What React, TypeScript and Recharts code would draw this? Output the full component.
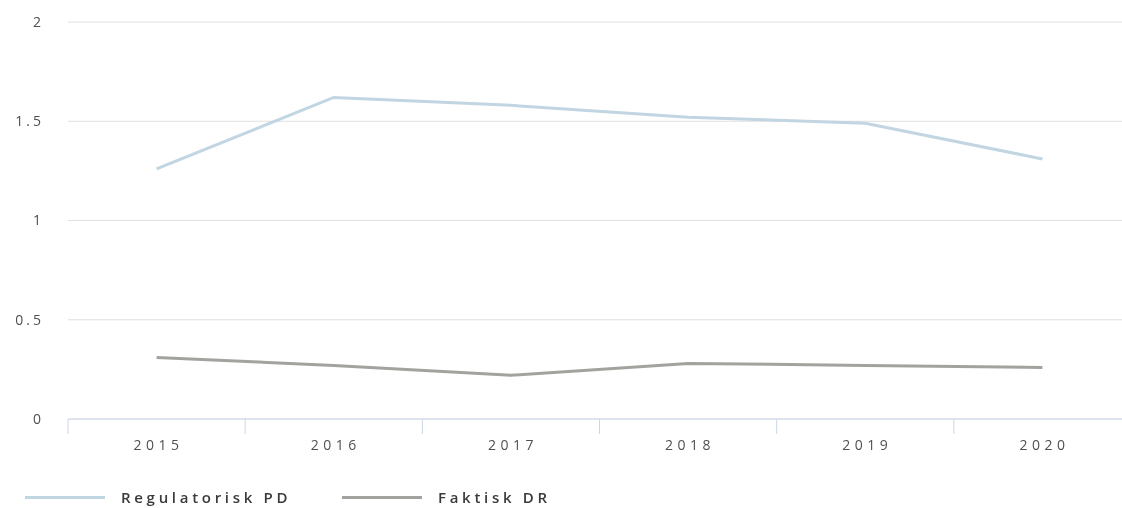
import React from "react";
import { LineChart, Line, XAxis, YAxis, CartesianGrid } from "recharts";

const years = [2015, 2016, 2017, 2018, 2019, 2020];
const regulatoriskPD = [1.26, 1.62, 1.58, 1.52, 1.49, 1.31];
const faktiskDR = [0.31, 0.27, 0.22, 0.28, 0.27, 0.26];
const yTicks = [0, 0.5, 1, 1.5, 2];
const xTicks = [2014.5, 2015, 2015.5, 2016, 2016.5, 2017, 2017.5, 2018, 2018.5, 2019, 2019.5, 2020, 2020.5];

const seriesNames = ["Regulatorisk PD", "Faktisk DR"];
const seriesColors = ["#c2d5e2", "#a2a29e"];

const data = years.map((y, i) => ({ year: y, pd: regulatoriskPD[i], dr: faktiskDR[i] }));

const FONT = "'Open Sans', 'DejaVu Sans', sans-serif";

const XTick = (props: any) => {
  const { x, y, payload } = props;
  const v = payload.value;
  if (Number.isInteger(v)) {
    return (
      <text x={x + 2} y={y + 26} dy="0.355em" textAnchor="middle" fill="#505050" fontSize={14}
        style={{ fontFamily: FONT, letterSpacing: "4.5px" }}>
        {String(v)}
      </text>
    );
  }
  return <line x1={x} y1={y} x2={x} y2={y + 15} stroke="#ccd6eb" strokeWidth={1} />;
};

const YTick = (props: any) => {
  const { x, y, payload } = props;
  return (
    <text x={x - 24} y={y} dy="0.355em" textAnchor="end" fill="#505050" fontSize={14}
      style={{ fontFamily: FONT, letterSpacing: "3px" }}>
      {String(payload.value)}
    </text>
  );
};

export default function App() {
  return (
    <div style={{ position: "fixed", left: 8, top: 8, width: 1114, height: 500, overflow: "hidden" }}>
      <LineChart width={1140} height={450} data={data} margin={{ top: 14, right: 17, left: 0, bottom: 9 }}>
        <CartesianGrid vertical={false} stroke="#e0e0e0" strokeWidth={1} />
        <XAxis
          dataKey="year"
          type="number"
          domain={[2014.5, 2020.5]}
          ticks={xTicks}
          interval={0}
          tickSize={0}
          tickMargin={0}
          tickLine={false}
          axisLine={{ stroke: "#ccd6eb" }}
          height={30}
          tick={<XTick />}
        />
        <YAxis
          domain={[0, 2]}
          ticks={yTicks}
          width={60}
          axisLine={false}
          tickLine={false}
          tickSize={0}
          tickMargin={0}
          tick={<YTick />}
        />
        <Line dataKey="pd" name={seriesNames[0]} stroke={seriesColors[0]} strokeWidth={3} dot={false} isAnimationActive={false} />
        <Line dataKey="dr" name={seriesNames[1]} stroke={seriesColors[1]} strokeWidth={3} dot={false} isAnimationActive={false} />
      </LineChart>
      <div style={{ position: "absolute", left: 0, top: 478, height: 22, width: 1114, fontFamily: FONT }}>
        {seriesNames.map((n, i) => (
          <div key={n} style={{ position: "absolute", left: i === 0 ? 17 : 334, top: 0, display: "flex", alignItems: "center", height: 22 }}>
            <div style={{ width: 80, height: 3, background: seriesColors[i] }} />
            <span style={{ marginLeft: 16, fontSize: 15, fontWeight: 600, color: "#3a3a3a", letterSpacing: "3.7px" }}>{n}</span>
          </div>
        ))}
      </div>
    </div>
  );
}
